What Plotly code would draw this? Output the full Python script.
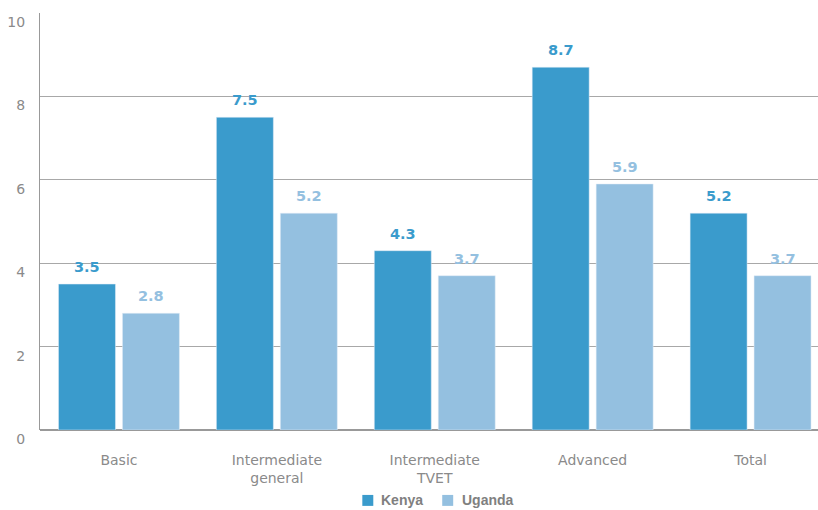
import plotly.graph_objects as go

categories = ["Basic", "Intermediate<br>general", "Intermediate<br>TVET", "Advanced", "Total"]
series_names = ["Kenya", "Uganda"]
kenya = [3.5, 7.5, 4.3, 8.7, 5.2]
uganda = [2.8, 5.2, 3.7, 5.9, 3.7]
y_ticks = [0, 2, 4, 6, 8, 10]

kenya_color = "#3a9bcc"
uganda_color = "#94c0e0"
font_family = "DejaVu Sans, sans-serif"

fig = go.Figure()
fig.add_trace(go.Bar(name=series_names[0], x=categories, y=kenya, marker_color=kenya_color))
fig.add_trace(go.Bar(name=series_names[1], x=categories, y=uganda, marker_color=uganda_color))

# value labels above each bar, offset to the bar's slot within the group
for values, color, dx in ((kenya, kenya_color, -32), (uganda, uganda_color, 32)):
    for cat, v in zip(categories, values):
        fig.add_annotation(
            x=cat, y=v, text=f"{v:.1f}", showarrow=False,
            xshift=dx, yshift=7, yanchor="bottom",
            font=dict(family=font_family, size=14.5, color=color, weight="bold"),
        )

# compact legend below the axis: colour square + bold name
legend_items = [
    (series_names[0], kenya_color, 0.4143, 0.4361),
    (series_names[1], uganda_color, 0.5170, 0.5401),
]
for name, color, sq_x, txt_x in legend_items:
    fig.add_shape(type="rect", xref="paper", yref="paper",
                  x0=sq_x, x1=sq_x + 0.0141, y0=-0.1820, y1=-0.1557,
                  fillcolor=color, line_width=0)
    fig.add_annotation(xref="paper", yref="paper", x=txt_x, y=-0.1690,
                       xanchor="left", yanchor="middle", showarrow=False, text=name,
                       font=dict(family="Liberation Sans, Arial, sans-serif", size=14,
                                 color="#808080", weight="bold"))

fig.update_layout(
    width=818, height=510,
    margin=dict(l=39.5, r=0, t=13, b=79.5),
    paper_bgcolor="white", plot_bgcolor="white",
    barmode="group", bargap=0.19, bargroupgap=0.109,
    font=dict(family=font_family, color="#888888", size=13),
    showlegend=False,
    xaxis=dict(range=[-0.5, 4.427], showgrid=False, showline=False, ticks="",
               ticklabelstandoff=20, tickfont=dict(size=14, color="#8a8a8a")),
    yaxis=dict(range=[0, 10], tickvals=y_ticks, showgrid=True, gridcolor="#a8a8a8",
               gridwidth=1, showline=True, linecolor="#999999", linewidth=1,
               zeroline=True, zerolinecolor="#999999", ticks="",
               ticklabelstandoff=11, ticklabelshift=9,
               tickfont=dict(size=14, color="#8a8a8a")),
)

fig.write_html("out.html")
